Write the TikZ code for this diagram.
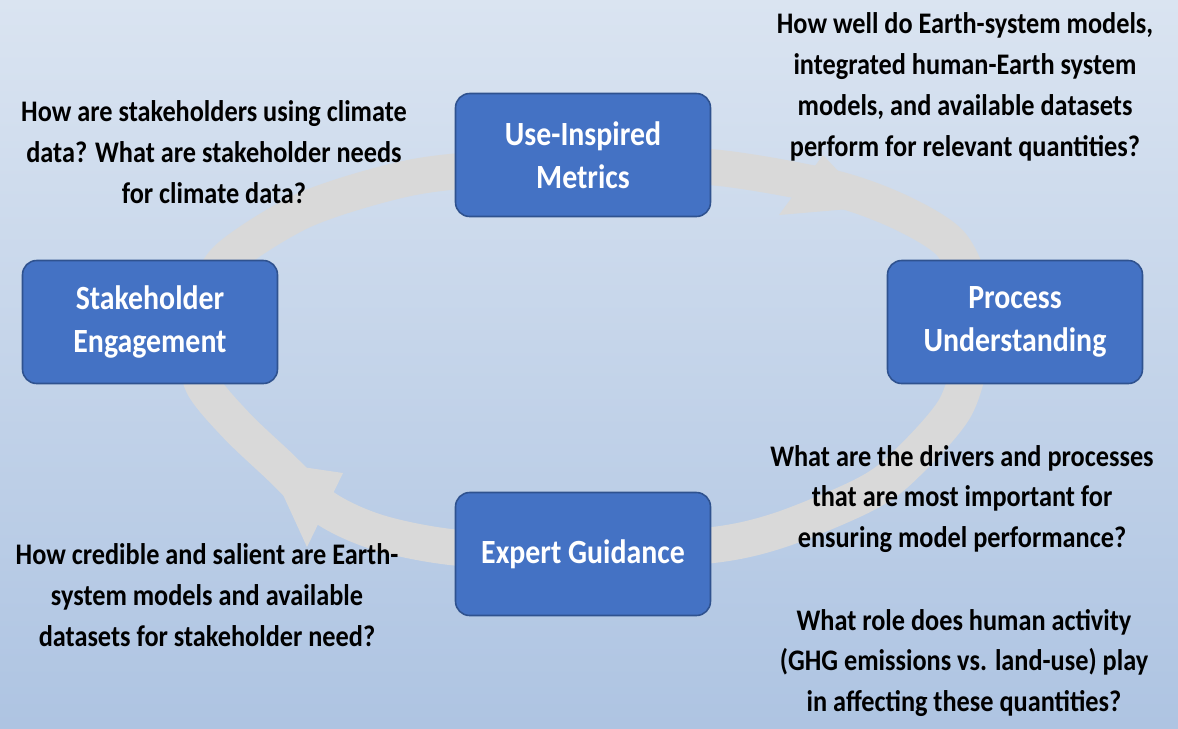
\documentclass[tikz,border=0pt]{standalone}
\usepackage{fontspec}
\setmainfont{Carlito}[FakeStretch=0.88]
\definecolor{cyBgTop}{HTML}{DAE4F1}
\definecolor{cyBgBot}{HTML}{AEC4E2}
\definecolor{cyBox}{HTML}{4472C4}
\definecolor{cyEdge}{HTML}{2F528F}
\definecolor{cyRing}{HTML}{D9D9D9}
\tikzset{
  stage/.style={
    draw=cyEdge, fill=cyBox, line width=0.9pt, rounded corners=8pt,
    minimum width=5.1cm, minimum height=2.46cm, text=white, align=center,
    font=\fontsize{19.3}{24.4}\selectfont\bfseries
  },
  question/.style={align=center, text=black, inner sep=0pt,
    font=\fontsize{17}{23.2}\selectfont\bfseries},
  ring/.style={draw=cyRing, line width=0.72cm},
  ringhead/.style={fill=cyRing}
}
\begin{document}
\begin{tikzpicture}[x=0.02cm, y=-0.02cm]
  % background
  \shade[top color=cyBgTop, bottom color=cyBgBot] (0,0) rectangle (1178,728);
  % cycle ring
  \draw[ring] plot[smooth cycle] coordinates {
    (450,172) (600,163) (720,168) (833,188) (900,212) (950,243) (972,290)
    (974,340) (955,408) (900,470) (860,497) (780,530) (713,545) (590,552)
    (460,548) (380,533) (325,508) (276,463) (236,425) (203,385) (196,345)
    (205,300) (228,258) (300,212) (380,185)};
  \fill[ringhead] (823,155) -- (872,207) -- (779,215) -- cycle;
  \fill[ringhead] (343,473) -- (268,462) -- (307,547) -- cycle;
  % stages
  \node[stage] (metrics) at (583,155) {Use-Inspired\\Metrics};
  \node[stage] (process) at (1015,322) {Process\\Understanding};
  \node[stage] (expert) at (583,554) {Expert Guidance};
  \node[stage] (stake) at (150,322) {Stakeholder\\Engagement};
  % questions
  \node[question] (qstake) at (214,152) {How are stakeholders using climate\\data? What are stakeholder needs\\for climate data?};
  \node[question] (qmetrics) at (965,87) {How well do Earth-system models,\\integrated human-Earth system\\models, and available datasets\\perform for relevant quantities?};
  \node[question] (qprocess) at (962,499) {What are the drivers and processes\\that are most important for\\ensuring model performance?};
  \node[question] (qhuman) at (964,663) {What role does human activity\\(GHG emissions vs. land-use) play\\in affecting these quantities?};
  \node[question] (qexpert) at (207,595) {How credible and salient are Earth-\\system models and available\\datasets for stakeholder need?};
\end{tikzpicture}
\end{document}
